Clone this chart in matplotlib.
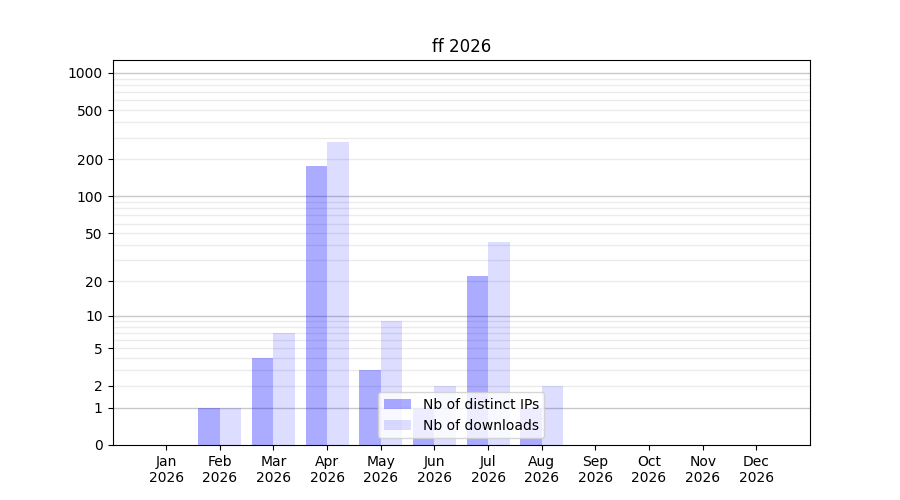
import matplotlib
matplotlib.use("Agg")
import matplotlib.pyplot as plt
import numpy as np

# data
months = ['Jan', 'Feb', 'Mar', 'Apr', 'May', 'Jun',
          'Jul', 'Aug', 'Sep', 'Oct', 'Nov', 'Dec']
year = '2026'
distinct_ips = [0, 1, 4, 177, 3, 1, 22, 1, 0, 0, 0, 0]
downloads = [0, 1, 7, 277, 9, 2, 42, 2, 0, 0, 0, 0]
ytick_vals = [0, 1, 2, 5, 10, 20, 50, 100, 200, 500, 1000]


def fwd(y):
    return np.log10(1 + np.clip(y, 0, None))


def inv(y):
    return 10 ** y - 1


fig, ax = plt.subplots(figsize=(9, 5), dpi=100)
x = np.arange(1, 13)
w = 0.4

ax.set_yscale('function', functions=(fwd, inv))

# grid: light lines at 2..9 per decade, darker at decades
minor = [m * 10 ** k for k in range(0, 3) for m in range(2, 10)]
for v in minor:
    ax.axhline(v, color='#ebebeb', lw=1, zorder=0)
for v in [1, 10, 100, 1000]:
    ax.axhline(v, color='#c8c8c8', lw=1, zorder=0)

ax.bar(x - w / 2, distinct_ips, width=w, color='blue', alpha=0.33,
       label='Nb of distinct IPs', zorder=2)
ax.bar(x + w / 2, downloads, width=w, color='blue', alpha=0.135,
       label='Nb of downloads', zorder=2)

ax.set_ylim(0, 1270)
ax.set_yticks(ytick_vals)
ax.set_yticklabels([str(v) for v in ytick_vals])
ax.yaxis.set_minor_locator(matplotlib.ticker.NullLocator())
ax.set_xlim(0, 13)
ax.set_xticks(x)
ax.set_xticklabels([m + '\n' + year for m in months])

ax.set_title('ff 2026')
ax.legend(loc='lower center')

fig.savefig('out.png', dpi=100)
